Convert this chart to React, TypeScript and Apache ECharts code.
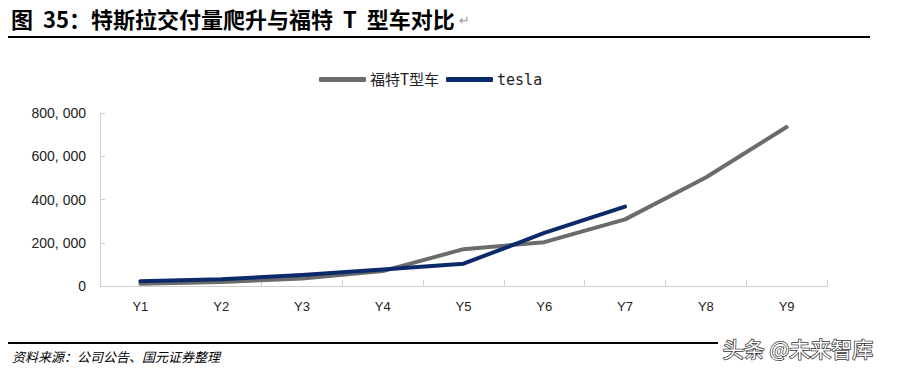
import React, { useEffect, useRef } from "react";
import * as echarts from "echarts";

const categories = ["Y1", "Y2", "Y3", "Y4", "Y5", "Y6", "Y7", "Y8", "Y9"];
const fordT = [10666, 19050, 34858, 68773, 170211, 202667, 308162, 501462, 735020];
const tesla = [22477, 31655, 50580, 76230, 103020, 245240, 367500, null, null];
const seriesNames = ["福特T型车", "tesla"];
const yMax = 800000;
const yInterval = 200000;

const titleText = "图  35：特斯拉交付量爬升与福特  T  型车对比";
const sourceText = "资料来源：公司公告、国元证券整理";
const watermark = "头条 @未来智库";

function fmt(v: number): string {
  if (v === 0) return "0";
  const s = Math.round(v).toString();
  return s.replace(/\B(?=(\d{3})+(?!\d))/g, ", ");
}

export default function App() {
  const ref = useRef<HTMLDivElement>(null);
  useEffect(() => {
    if (!ref.current) return;
    const chart = echarts.init(ref.current, null, { renderer: "svg" });
    chart.setOption({
      animation: false,
      backgroundColor: "#ffffff",
      grid: { left: 100, right: 75, top: 113, bottom: 87, containLabel: false },
      legend: {
        data: seriesNames,
        top: 67,
        left: 314,
        itemWidth: 47,
        itemHeight: 5,
        itemGap: 7,
        icon: "roundRect",
        textStyle: {
          fontFamily: "DejaVu Sans Mono, Noto Sans CJK SC",
          fontSize: 15,
          color: "#222",
          padding: [0, 0, 0, -1],
        },
      },
      xAxis: {
        type: "category",
        data: categories,
        boundaryGap: true,
        axisLine: { lineStyle: { color: "#cfcfcf", width: 1 } },
        axisTick: { show: true, inside: true, length: 6, lineStyle: { color: "#cfcfcf" } },
        axisLabel: { fontFamily: "Liberation Sans", fontSize: 13, color: "#222", margin: 14 },
      },
      yAxis: {
        type: "value",
        min: 0,
        max: yMax,
        interval: yInterval,
        splitLine: { show: false },
        axisLine: { show: true, lineStyle: { color: "#cfcfcf", width: 1 } },
        axisTick: { show: true, inside: true, length: 5, lineStyle: { color: "#cfcfcf" } },
        axisLabel: {
          fontFamily: "Liberation Sans",
          fontSize: 14,
          color: "#222",
          margin: 14,
          formatter: (v: number) => fmt(v),
        },
      },
      series: [
        {
          name: seriesNames[0],
          type: "line",
          data: fordT,
          symbol: "none",
          lineStyle: { color: "#6b6b6b", width: 4, cap: "round", join: "round" },
          itemStyle: { color: "#6b6b6b" },
        },
        {
          name: seriesNames[1],
          type: "line",
          data: tesla,
          symbol: "none",
          lineStyle: { color: "#0b2a6a", width: 4, cap: "round", join: "round" },
          itemStyle: { color: "#0b2a6a" },
        },
      ],
      graphic: [
        {
          type: "text",
          left: 11,
          top: 7,
          style: {
            text: titleText,
            fontFamily: "Noto Sans CJK SC",
            fontWeight: "bold",
            fontSize: 22,
            fill: "#000",
          },
        },
        {
          type: "text",
          left: 459,
          top: 14,
          style: { text: "↵", fontFamily: "DejaVu Sans", fontSize: 13, fill: "#999" },
        },
        {
          type: "line",
          shape: { x1: 8, y1: 37, x2: 870, y2: 37 },
          style: { stroke: "#000", lineWidth: 2 },
        },
        {
          type: "line",
          shape: { x1: 8, y1: 343, x2: 718, y2: 343 },
          style: { stroke: "#000", lineWidth: 2 },
        },
        {
          type: "text",
          left: 12,
          top: 350,
          style: {
            text: sourceText,
            fontFamily: "Noto Sans CJK SC",
            fontStyle: "italic",
            fontSize: 13,
            fill: "#000",
          },
        },
        {
          type: "text",
          left: 722,
          top: 337,
          style: {
            text: watermark,
            fontFamily: "Noto Sans CJK SC",
            fontSize: 21,
            fill: "#ffffff",
            stroke: "#333",
            lineWidth: 1.5,
          },
        },
      ],
    });
    return () => chart.dispose();
  }, []);
  return <div ref={ref} style={{ width: 902, height: 373, position: "absolute", left: 0, top: 0 }} />;
}
